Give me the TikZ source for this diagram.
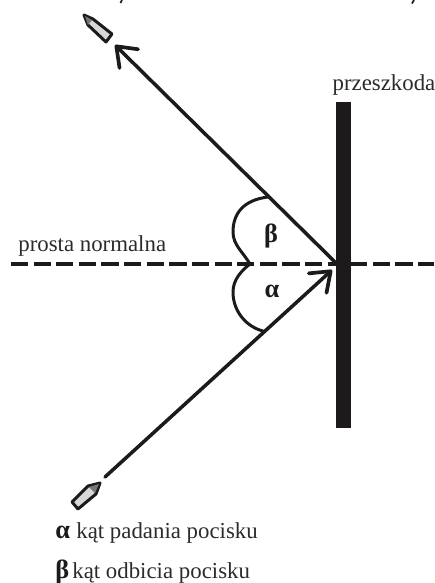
\documentclass[tikz,border=0pt]{standalone}
\usepackage{fontspec}
\setmainfont{Liberation Serif}
\usetikzlibrary{arrows.meta}
\definecolor{Ink}{HTML}{1C1A1A}
\definecolor{Label}{HTML}{2B2B2B}
\definecolor{Shell}{HTML}{D8D8D8}
\definecolor{Nose}{HTML}{777777}
\tikzset{
  ray/.style={Ink,line width=2pt,line cap=round},
  shot/.style={ray,-{Straight Barb[length=10pt,width=15pt,line width=2.1pt,round]}},
  normline/.style={Ink,line width=2.1pt,dash pattern=on 9.8pt off 3.07pt},
  anglemark/.style={Ink,line width=1.7pt,line cap=round},
  bullet/.style={draw=Ink,fill=Shell,line width=1.7pt,line join=round},
  labeltext/.style={text=Label,inner sep=0pt,font=\fontsize{13}{15}\selectfont},
  sign/.style={text=Ink,inner sep=0pt,font=\fontsize{15}{17}\selectfont\bfseries}
}
\begin{document}
\begin{tikzpicture}[x=0.02cm,y=-0.02cm]
    \useasboundingbox (0,0) rectangle (435,583);

    \coordinate (hit) at (335,262);
    \coordinate (hitin) at (332,270);
    \coordinate (rayend) at (115,45);
    \coordinate (raystart) at (105,477);
    \coordinate (normleft) at (11,264);
    \coordinate (normright) at (434,264);
    \coordinate (apex) at (250,264);
    \coordinate (betaend) at (268,197);
    \coordinate (alphaend) at (263,331);

    \draw[normline] (normleft) -- (normright);
    \fill[Ink] (336,102) rectangle (351,428);
    \draw[shot] (hit) -- (rayend);
    \draw[shot] (raystart) -- (hitin);

    % angle marks
    \draw[anglemark] (betaend) .. controls (243,200) and (233,214) .. (233,232) .. controls (233,245) and (243,252) .. (apex);
    \draw[anglemark] (apex) .. controls (241,271) and (233,280) .. (233,292) .. controls (233,312) and (247,327) .. (alphaend);

    % bullets
    \draw[bullet] (84,15) -- (93,19) -- (112,34) -- (106,42) -- (88,25) -- cycle;
    \fill[Nose] (85,16) -- (92,20) -- (88,25) -- cycle;
    \draw[bullet] (100,483) -- (88,486) -- (72,502) -- (78,509) -- (96,494) -- cycle;
    \fill[Nose] (99,484) -- (89,487) -- (95,493) -- cycle;

    % clipped text at the top edge
    \draw[Ink,line width=1pt] (122,0) -- (120.5,3);
    \draw[Ink,line width=1pt] (414,0) -- (412,3.5);

    \node[labeltext,anchor=base] (obstacle) at (384,90) {przeszkoda};
    \node[labeltext,anchor=base west] (normlabel) at (18,251) {prosta normalna};
    \node[sign] (beta) at (271,236) {β};
    \node[sign] (alpha) at (272,291) {α};
    \node[sign,anchor=base west] (alphakey) at (55,538) {α};
    \node[labeltext,anchor=base west] (alphatext) at (76,538) {kąt padania pocisku};
    \node[sign,anchor=base west] (betakey) at (55,578) {β};
    \node[labeltext,anchor=base west] (betatext) at (72,578) {kąt odbicia pocisku};
  \end{tikzpicture}
\end{document}
